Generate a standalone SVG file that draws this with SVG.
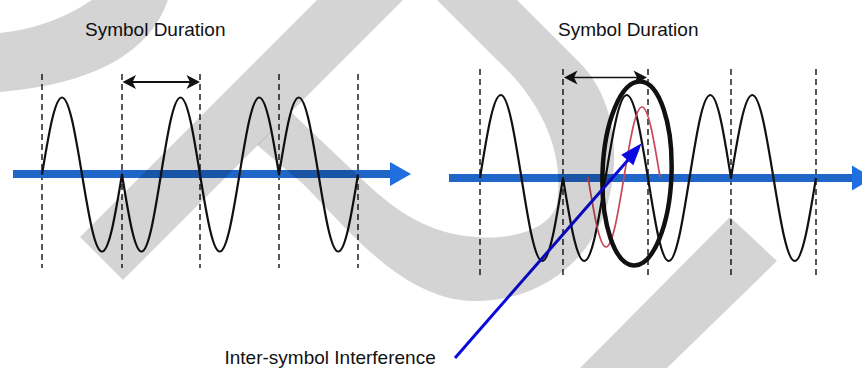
<svg xmlns="http://www.w3.org/2000/svg" width="862" height="368" viewBox="0 0 862 368">
<style>
.wave{fill:none;stroke:#111;stroke-width:2.2;stroke-linejoin:round}
.dash{stroke:#111;stroke-width:1.4;stroke-dasharray:6 4}
.bar{fill:#1f66c8}
.head{fill:#1f6fe0}
.dbl{stroke:#111;stroke-width:2}
.tip{fill:#111}
.txt{font-family:"Liberation Sans",Arial,sans-serif;font-size:19px;fill:#111}
.wm{fill:#000;fill-opacity:0.17}
</style>
<rect x="0" y="0" width="862" height="368" fill="#fff"/>
<g id="left-panel">
  <text class="txt" x="85" y="36">Symbol Duration</text>
  <g id="left-dashes">
    <line class="dash" x1="42" y1="74" x2="42" y2="268"/>
    <line class="dash" x1="122" y1="74" x2="122" y2="268"/>
    <line class="dash" x1="200" y1="74" x2="200" y2="268"/>
    <line class="dash" x1="279" y1="74" x2="279" y2="268"/>
    <line class="dash" x1="358" y1="74" x2="358" y2="268"/>
  </g>
  <g id="left-duration">
    <line class="dbl" x1="130" y1="82" x2="192" y2="82"/>
    <polygon class="tip" points="122.5,82 136,75 132.5,82 136,89"/>
    <polygon class="tip" points="200,82 186.5,75 190,82 186.5,89"/>
  </g>
  <g id="left-axis">
    <rect class="bar" x="13" y="170" width="379" height="8"/>
    <polygon class="head" points="390,162 411,174 390,186"/>
  </g>
  <path id="left-wave" class="wave" d="M42,174.5 C48.69,134.07 54.79,97.5 62,97.5 C69.21,97.5 75.31,134.07 82,174.5 C88.69,214.93 94.79,251.5 102,251.5 C109.21,251.5 115.31,214.93 122,174.5 C128.52,214.93 134.47,251.5 141.5,251.5 C148.53,251.5 154.48,214.93 161,174.5 C167.52,134.07 173.47,97.5 180.5,97.5 C187.53,97.5 193.48,134.07 200,174.5 C206.6,214.93 212.63,251.5 219.75,251.5 C226.87,251.5 232.9,214.93 239.5,174.5 C246.1,134.07 252.13,97.5 259.25,97.5 C266.37,97.5 272.4,134.07 279,174.5 C285.6,134.07 291.63,97.5 298.75,97.5 C305.87,97.5 311.9,134.07 318.5,174.5 C325.1,214.93 331.13,251.5 338.25,251.5 C345.37,251.5 351.4,214.93 358,174.5"/>
</g>
<g id="right-panel">
  <text class="txt" x="558" y="36">Symbol Duration</text>
  <g id="right-dashes">
    <line class="dash" x1="480" y1="69" x2="480" y2="275"/>
    <line class="dash" x1="563" y1="69" x2="563" y2="275"/>
    <line class="dash" x1="648" y1="69" x2="648" y2="275"/>
    <line class="dash" x1="731" y1="69" x2="731" y2="275"/>
    <line class="dash" x1="816" y1="69" x2="816" y2="275"/>
  </g>
  <g id="right-duration">
    <line class="dbl" x1="572" y1="77.5" x2="639" y2="77.5" style="stroke-width:1.6"/>
    <polygon class="tip" points="564,77.5 577.5,70.5 574,77.5 577.5,84.5"/>
    <polygon class="tip" points="647,77.5 633.5,70.5 637,77.5 633.5,84.5"/>
  </g>
  <g id="right-axis">
    <rect class="bar" x="449" y="174" width="405" height="8"/>
    <polygon class="head" points="852,165.5 873,178 852,190.5"/>
  </g>
  <path id="right-wave" class="wave" d="M480,178 C486.94,134.42 493.27,95 500.75,95 C508.23,95 514.56,134.42 521.5,178 C528.44,221.58 534.77,261 542.25,261 C549.73,261 556.06,221.58 563,178 C570.1,221.58 576.59,261 584.25,261 C591.91,261 598.4,221.58 605.5,178 C612.6,134.42 619.09,95 626.75,95 C634.41,95 640.9,134.42 648,178 C654.94,221.58 661.27,261 668.75,261 C676.23,261 682.56,221.58 689.5,178 C696.44,134.42 702.77,95 710.25,95 C717.73,95 724.06,134.42 731,178 C738.1,134.42 744.59,95 752.25,95 C759.91,95 766.4,134.42 773.5,178 C780.6,221.58 787.09,261 794.75,261 C802.41,261 808.9,221.58 816,178"/>
  <path id="echo" d="M588,177 C594.02,213.76 599.51,247 606,247 C612.49,247 617.98,213.76 624,177 C630.02,140.24 635.51,107 642,107 C648.49,107 653.98,140.24 660,177" fill="none" stroke="#c8485a" stroke-width="1.7"/>
  <ellipse id="isi-ring" cx="637" cy="173.5" rx="34.5" ry="92" fill="none" stroke="#111" stroke-width="4.5" transform="rotate(2 637 173.5)"/>
  <text class="txt" x="224.5" y="363.5">Inter-symbol Interference</text>
</g>
<g id="connectors">
  <line x1="455" y1="358" x2="628" y2="160" stroke="#0a0ae0" stroke-width="3"/>
  <polygon points="641.7,143.3 633.31,165.16 621.23,154.66" fill="#0a0ae0"/>
</g>
<g id="watermark">
  <path class="wm" d="M0,92 Q140,80 168,0 L92,0 Q50,28 0,33 Z"/>
  <polygon class="wm" points="317,0 403,0 123,280 80,237"/>
  <path class="wm" d="M257,145 L303,184 C340,220 400,300 473,301 C540,302 600,260 612,184 C620,130 605,90 582,65 L517,0 L437,0 L497,60 C540,100 565,150 557,204 C550,230 510,240 477,237 C430,235 395,210 367,184 L291,112 Z"/>
  <polygon class="wm" points="580,368 667,368 777,261 730,217"/>
</g>
</svg>
